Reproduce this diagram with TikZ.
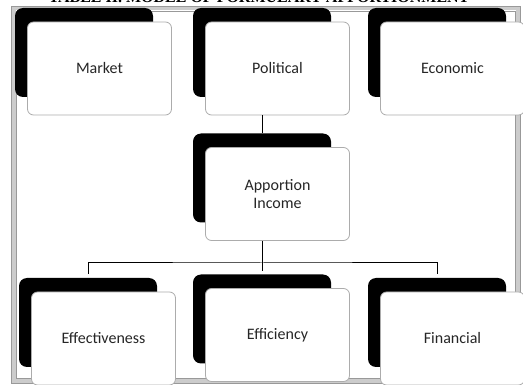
\documentclass[tikz,border=0pt]{standalone}
\usepackage{fontspec}
\setmainfont{Carlito}
\newfontfamily\titlefont{Liberation Serif}
\tikzset{
    backbox/.style={
        fill=black,
        rounded corners=8pt,
        minimum width=138pt,
        minimum height=89pt,
        inner sep=0pt
    },
    card/.style={
        draw=gray!65,
        line width=0.8pt,
        fill=white,
        rounded corners=6pt,
        minimum width=144pt,
        minimum height=93pt,
        inner sep=0pt,
        align=center,
        text=black!85,
        font=\fontsize{16}{18}\selectfont
    },
    link/.style={
        draw=black,
        line width=1pt
    }
}

\begin{document}
\begin{tikzpicture}[
    x=1pt,
    y=-1pt
]
    \useasboundingbox (0,0) rectangle (523,385);

    % Titulo (cortado arriba)
    \node[anchor=base, font=\titlefont\bfseries\fontsize{16}{18}\selectfont]
        (title) at (259,3) {TABLE II. MODEL OF FORMULARY APPORTIONMENT};

    % Marco
    \draw[gray!40, line width=4pt] (13.5,8.5) rectangle (517.5,380.5);
    \draw[gray!80, line width=0.6pt] (11,6) rectangle (520,383);
    \draw[gray!80, line width=0.6pt] (16,11) rectangle (515,378);

    % Nivel superior
    \node[backbox] (marketback)    at (84,52.5)  {};
    \node[backbox] (politicalback) at (262,52.5) {};
    \node[backbox] (economicback)  at (437,52.5) {};
    \node[card] (market)    at ([shift={(15.5,16)}]marketback)    {Market};
    \node[card] (political) at ([shift={(15.5,16)}]politicalback) {Political};
    \node[card] (economic)  at ([shift={(15.5,16)}]economicback)  {Economic};

    % Nivel central
    \node[backbox] (apportionback) at (262,178) {};
    \node[card] (apportion) at ([shift={(15.5,16)}]apportionback) {Apportion\\Income};

    % Nivel inferior
    \node[backbox] (effectivenessback) at (88,322.5) {};
    \node[backbox] (efficiencyback)    at (262,319)  {};
    \node[backbox] (financialback)     at (437,322.5) {};
    \node[card] (effectiveness) at ([shift={(15.5,16)}]effectivenessback) {Effectiveness};
    \node[card] (efficiency)    at ([shift={(15.5,16)}]efficiencyback)    {Efficiency};
    \node[card] (financial)     at ([shift={(15.5,16)}]financialback)     {Financial};

    % Conexiones
    \draw[link] (politicalback |- political.south) -- (apportionback.north);
    \draw[link, shorten >=3pt] (apportionback |- apportion.south) -- (efficiencyback.north);
    \draw[link, shorten <=4pt, shorten >=4pt]
        (effectivenessback.north) |- (262,263) -| (financialback.north);

\end{tikzpicture}
\end{document}
